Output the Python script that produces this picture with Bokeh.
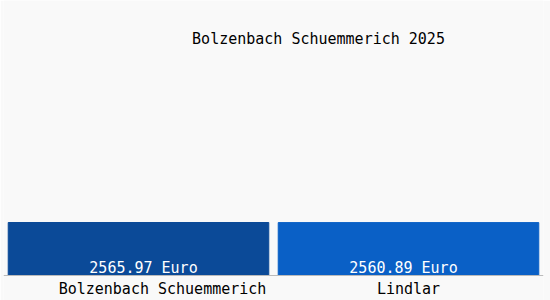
from bokeh.plotting import figure
from bokeh.models import Range1d, Label, ColumnDataSource, Span
from bokeh.core.properties import value
from bokeh.embed import file_html
from bokeh.resources import INLINE

title_text = "Bolzenbach Schuemmerich 2025"
categories = ["Bolzenbach Schuemmerich", "Lindlar"]
values = [2565.97, 2560.89]
colors = ["#0b4a98", "#0a60c6"]
labels = [f"{v:.2f} Euro" for v in values]

# style-only offsets (pixels) for the text placement seen in the reference
value_label_dx = [5, -5]
cat_label_dx = [24, 0]

FONT = "DejaVu Sans Mono"
BG = "#f9f9f9"

# vertical scale: bars about 53 px tall, baseline 25 px above the bottom edge
unit_per_px = max(values) / 53.0
y_lo = -25 * unit_per_px
y_hi = 275 * unit_per_px

p = figure(width=550, height=300, x_range=categories,
           y_range=Range1d(y_lo, y_hi),
           output_backend="svg", toolbar_location=None,
           min_border_left=3, min_border_right=7, min_border_top=0, min_border_bottom=0,
           background_fill_color=BG, border_fill_color=BG, outline_line_color=None)

src = ColumnDataSource(dict(cat=categories, val=values, color=colors, label=labels,
                            vdx=value_label_dx, cdx=cat_label_dx))
p.vbar(x="cat", top="val", bottom=0, width=0.965, color="color", source=src)
p.text(x="cat", y=0, text="label", source=src, text_color="white",
       text_font=value(FONT), text_font_size="15px", text_align="center",
       text_baseline="bottom", x_offset="vdx", y_offset=1)
p.text(x="cat", y=0, text="cat", source=src, text_color="black",
       text_font=value(FONT), text_font_size="15px", text_align="center",
       text_baseline="middle", x_offset="cdx", y_offset=13)

p.add_layout(Span(location=0, dimension="width", line_color="#bbbbbb", line_width=1))

p.xaxis.visible = False
p.yaxis.visible = False
p.xgrid.visible = False
p.ygrid.visible = False

p.add_layout(Label(x=315, y=262, x_units="screen", y_units="screen",
                   text=title_text, text_font=FONT, text_font_size="15px",
                   text_align="center", text_baseline="middle", text_color="black"))

open("out.html", "w").write(file_html(p, INLINE))
